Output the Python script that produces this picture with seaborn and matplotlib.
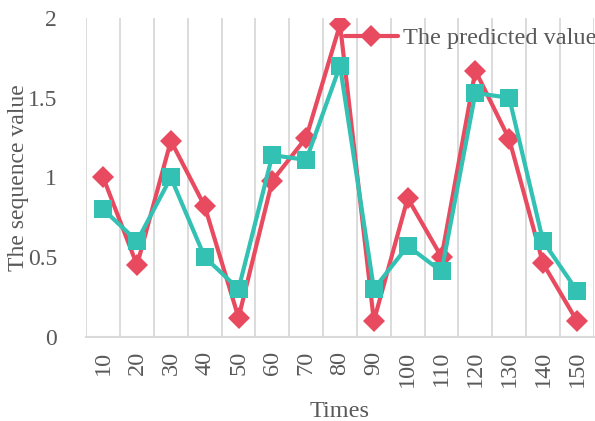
import seaborn as sns
import matplotlib.pyplot as plt
import numpy as np

times = ["10", "20", "30", "40", "50", "60", "70", "80", "90", "100",
         "110", "120", "130", "140", "150"]
predicted = [1.00, 0.45, 1.23, 0.82, 0.12, 0.98, 1.25, 1.96, 0.10, 0.87,
             0.50, 1.67, 1.24, 0.46, 0.10]
actual = [0.80, 0.60, 1.00, 0.50, 0.30, 1.14, 1.11, 1.70, 0.30, 0.57,
          0.41, 1.53, 1.50, 0.60, 0.29]

sns.set_style("white")
plt.rcParams['font.family'] = ['Liberation Serif', 'DejaVu Serif']
text_color = '#595959'
red = '#e84a5f'
teal = '#33c1b3'
fs = 17.5

fig, ax = plt.subplots(figsize=(5.95, 4.21), dpi=100)
fig.subplots_adjust(left=0.145, right=0.998, top=0.957, bottom=0.2)

sns.lineplot(ax=ax, x=times, y=predicted, color=red, linewidth=3,
             marker='D', markersize=11, markeredgewidth=0, label='The predicted value',
             sort=False)
sns.lineplot(ax=ax, x=times, y=actual, color=teal, linewidth=3,
             marker='s', markersize=13, markeredgewidth=0, label='_nolegend_',
             sort=False)

ax.set_xlim(-0.5, len(times) - 0.5)
ax.set_ylim(0, 2)
ax.set_yticks([0, 0.5, 1, 1.5, 2])
ax.set_yticklabels(['0', '0.5', '1', '1.5', '2'])
ax.set_xticks(np.arange(-0.5, len(times), 1.0), minor=True)
ax.grid(True, which='minor', axis='x', color='#d9d9d9', linewidth=1.3)
ax.grid(False, which='major')
ax.tick_params(axis='x', which='both', length=0, rotation=90, labelsize=fs,
               colors=text_color, pad=10)
ax.tick_params(axis='y', length=0, labelsize=17, colors=text_color, pad=21)

for side in ['top', 'right', 'left']:
    ax.spines[side].set_visible(False)
ax.spines['bottom'].set_color('#d9d9d9')
ax.spines['bottom'].set_linewidth(1.5)

ax.set_xlabel('Times', fontsize=fs, color=text_color)
ax.xaxis.set_label_coords(0.5, -0.2)
ax.set_ylabel('The sequence value', fontsize=17, color=text_color)
ax.yaxis.set_label_coords(-0.112, 0.5)

leg = ax.legend(loc='center right', bbox_to_anchor=(1.005, 0.937), frameon=False,
                fontsize=fs, handlelength=2.2, handletextpad=0.2,
                borderaxespad=0.0, borderpad=0.0)
for t in leg.get_texts():
    t.set_color(text_color)

plt.savefig('out.png', dpi=100)
